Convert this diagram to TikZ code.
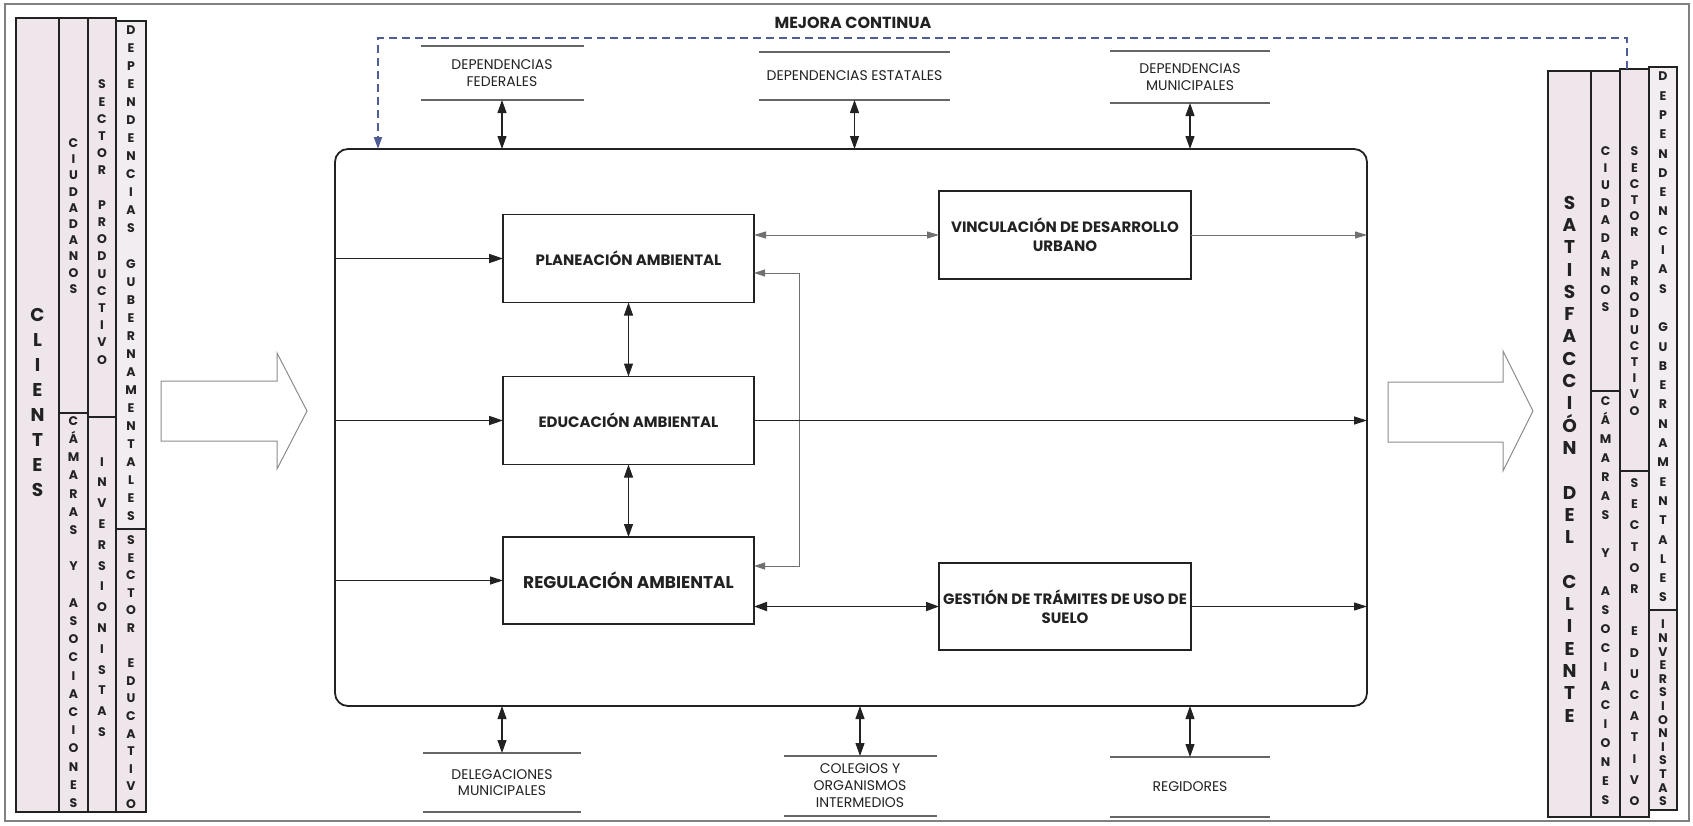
\documentclass[tikz,border=0pt]{standalone}
\usepackage{fontspec}
\setmainfont{Poppins}
\usetikzlibrary{arrows.meta}
\definecolor{colfill}{HTML}{EFE6EC}
\definecolor{colfillb}{HTML}{F1EDF0}
\definecolor{ink}{HTML}{222222}
\definecolor{soft}{HTML}{707070}
\definecolor{loopc}{HTML}{4E5E94}

\begin{document}
\begin{tikzpicture}[x=1pt,y=-1pt,
  every node/.style={inner sep=0pt, outer sep=0pt},
  frame/.style={draw=black!50, line width=1.2pt},
  colbox/.style={draw=ink, fill=colfill, line width=1.6pt},
  colboxb/.style={draw=ink, fill=colfillb, line width=1.6pt},
  vlet/.style={font=\bfseries\fontsize{12.5}{#1}\selectfont, align=center, text=ink},
  vbig/.style={font=\bfseries\fontsize{18.5}{#1}\selectfont, align=center, text=ink},
  procbox/.style={draw=ink, line width=1.8pt, rounded corners=13pt,
    minimum width=1032pt, minimum height=557pt},
  unitbox/.style={draw=ink, line width=1.8pt, fill=white, minimum width=251pt,
    minimum height=88pt, align=center, text=ink,
    font=\bfseries\fontsize{15}{19}\selectfont},
  extlabel/.style={align=center, text=ink, font=\fontsize{14}{16.5}\selectfont},
  rule/.style={draw=black!60, line width=1.2pt},
  heavy/.style={draw=ink, line width=1.7pt, -{Triangle[length=14pt,width=9pt]}},
  medium/.style={draw=ink, line width=1.2pt, -{Triangle[length=13pt,width=8pt]}},
  light/.style={draw=soft, line width=1pt, -{Triangle[length=12pt,width=7pt]}},
  dbl/.style={draw=ink, line width=1.1pt,
    {Triangle[length=13pt,width=9pt]}-{Triangle[length=13pt,width=9pt]}},
  loopline/.style={draw=loopc, line width=1.8pt, dash pattern=on 8pt off 5pt,
    -{Triangle[length=12pt,width=8pt]}},
  hollow/.style={draw=black!45, line width=1pt, fill=white}
]
\useasboundingbox (0,0) rectangle (1693,825);
\draw[frame] (5,4) rectangle (1689,821);

% ---------------- client columns (left) ----------------
\draw[colbox] (16,18) rectangle (59,812);
\draw[colbox] (59,18) rectangle (88,413);
\draw[colbox] (59,413) rectangle (88,812);
\draw[colbox] (88,18) rectangle (116,417);
\draw[colbox] (88,417) rectangle (116,812);
\draw[colboxb] (116,21) rectangle (146,529);
\draw[colbox] (116,529) rectangle (146,812);

\node[vbig=25] (lclientes) at (37.5,402) {C\\L\\I\\E\\N\\T\\E\\S};
\node[vlet=16.2] (lciud) at (73.5,216) {C\\I\\U\\D\\A\\D\\A\\N\\O\\S};
\node[vlet=18.2] (lcam) at (73.5,612)
  {C\\Á\\M\\A\\R\\A\\S\\~\\Y\\~\\A\\S\\O\\C\\I\\A\\C\\I\\O\\N\\E\\S};
\node[vlet=17.2] (lprod) at (102,222)
  {S\\E\\C\\T\\O\\R\\~\\P\\R\\O\\D\\U\\C\\T\\I\\V\\O};
\node[vlet=20.8] (linv) at (102,597) {I\\N\\V\\E\\R\\S\\I\\O\\N\\I\\S\\T\\A\\S};
\node[vlet=18] (ldep) at (131,273)
  {D\\E\\P\\E\\N\\D\\E\\N\\C\\I\\A\\S\\~\\G\\U\\B\\E\\R\\N\\A\\M\\E\\N\\T\\A\\L\\E\\S};
\node[vlet=17.6] (ledu) at (131,672)
  {S\\E\\C\\T\\O\\R\\~\\E\\D\\U\\C\\A\\T\\I\\V\\O};

% ---------------- satisfaction columns (right) ----------------
\draw[colbox] (1548,71) rectangle (1591,817);
\draw[colbox] (1591,71) rectangle (1620,391);
\draw[colbox] (1591,391) rectangle (1620,817);
\draw[colbox] (1620,69) rectangle (1649,471);
\draw[colbox] (1620,471) rectangle (1649,817);
\draw[colboxb] (1649,67) rectangle (1677,610);
\draw[colbox] (1649,610) rectangle (1677,810);

\node[vbig=22.3] (rsat) at (1569.5,459)
  {S\\A\\T\\I\\S\\F\\A\\C\\C\\I\\Ó\\N\\~\\D\\E\\L\\~\\C\\L\\I\\E\\N\\T\\E};
\node[vlet=17.4] (rciud) at (1605.5,229) {C\\I\\U\\D\\A\\D\\A\\N\\O\\S};
\node[vlet=19] (rcam) at (1605.5,601)
  {C\\Á\\M\\A\\R\\A\\S\\~\\Y\\~\\A\\S\\O\\C\\I\\A\\C\\I\\O\\N\\E\\S};
\node[vlet=16.2] (rprod) at (1634.5,281)
  {S\\E\\C\\T\\O\\R\\~\\P\\R\\O\\D\\U\\C\\T\\I\\V\\O};
\node[vlet=21.2] (redu) at (1634.5,642)
  {S\\E\\C\\T\\O\\R\\~\\E\\D\\U\\C\\A\\T\\I\\V\\O};
\node[vlet=19.3] (rdep) at (1663,337)
  {D\\E\\P\\E\\N\\D\\E\\N\\C\\I\\A\\S\\~\\G\\U\\B\\E\\R\\N\\A\\M\\E\\N\\T\\A\\L\\E\\S};
\node[vlet=13.6] (rinv) at (1663,713) {I\\N\\V\\E\\R\\S\\I\\O\\N\\I\\S\\T\\A\\S};

% ---------------- big hollow arrows ----------------
\draw[hollow] (161,381) -- (277,381) -- (277,353) -- (307,411) -- (277,469)
  -- (277,441) -- (161,441) -- cycle;
\draw[hollow] (1388,382) -- (1503,382) -- (1503,351) -- (1533,411) -- (1503,471)
  -- (1503,442) -- (1388,442) -- cycle;

% ---------------- process block ----------------
\node[procbox] (proc) at (851,427.5) {};

\node[unitbox] (plan) at (628.5,258.5) {PLANEACIÓN AMBIENTAL};
\node[unitbox] (edu) at (628.5,420.5) {EDUCACIÓN AMBIENTAL};
\node[unitbox, minimum height=87pt, font=\bfseries\fontsize{17}{21}\selectfont]
  (reg) at (628.5,580.5) {REGULACIÓN AMBIENTAL};
\node[unitbox, minimum width=252pt] (vinc) at (1065,235)
  {VINCULACIÓN DE DESARROLLO\\URBANO};
\node[unitbox, minimum width=252pt, minimum height=87pt] (gest) at (1065,606.5)
  {GESTIÓN DE TRÁMITES DE USO DE\\SUELO};

% inputs from the left edge
\draw[heavy] (proc.west |- plan.west) -- (plan.west);
\draw[heavy] (proc.west |- edu.west) -- (edu.west);
\draw[medium, line width=1.1pt] (proc.west |- reg.west) -- (reg.west);

% links between the units
\draw[dbl, line width=1pt] (plan.south) -- (edu.north);
\draw[dbl, line width=1pt] (edu.south) -- (reg.north);
\draw[light, {Triangle[length=12pt,width=7pt]}-{Triangle[length=12pt,width=7pt]}]
  (plan.east |- vinc.west) -- (vinc.west);
\draw[dbl, line width=1.8pt] (reg.east |- gest.west) -- (gest.west);

% return loop between planning and regulation
\coordinate (fbtop) at (799,273);
\coordinate (fbbot) at (799,566);
\draw[light, line width=0.9pt, {Triangle[length=11pt,width=7pt]}-{Triangle[length=11pt,width=7pt]}]
  (plan.east |- fbtop) -- (fbtop) -- (fbbot) -- (reg.east |- fbbot);

% outputs to the right edge
\draw[light] (vinc.east) -- (proc.east |- vinc.east);
\draw[medium] (edu.east) -- (proc.east |- edu.east);
\draw[medium, line width=1pt] (gest.east) -- (proc.east |- gest.east);

% ---------------- external bodies (top) ----------------
\node[extlabel, minimum width=163pt, minimum height=54pt] (fed) at (502,73)
  {DEPENDENCIAS\\FEDERALES};
\node[extlabel, minimum width=191pt, minimum height=48pt] (est) at (854.5,76)
  {DEPENDENCIAS ESTATALES};
\node[extlabel, minimum width=160pt, minimum height=52pt] (mun) at (1190,77)
  {DEPENDENCIAS\\MUNICIPALES};
\foreach \n in {fed,est,mun}{
  \draw[rule] (\n.north west) -- (\n.north east);
  \draw[rule] (\n.south west) -- (\n.south east);
  \draw[dbl] (\n.south) -- (\n.south |- proc.north);
}

% ---------------- external bodies (bottom) ----------------
\node[extlabel, minimum width=158pt, minimum height=59pt] (del) at (502,782.5)
  {DELEGACIONES\\MUNICIPALES};
\node[extlabel, minimum width=153pt, minimum height=60pt,
  font=\fontsize{14}{17}\selectfont] (cole) at (860,786)
  {COLEGIOS Y\\ORGANISMOS\\INTERMEDIOS};
\node[extlabel, minimum width=160pt, minimum height=60pt] (regid) at (1190,787)
  {REGIDORES};
\foreach \n in {del,cole,regid}{
  \draw[rule] (\n.north west) -- (\n.north east);
  \draw[rule] (\n.south west) -- (\n.south east);
  \draw[dbl] (proc.south -| \n.north) -- (\n.north);
}

% ---------------- continuous improvement loop ----------------
\node[font=\bfseries\fontsize{16}{16}\selectfont, text=ink] (mejora) at (853,23)
  {MEJORA CONTINUA};
\coordinate (dstart) at (1627,69);
\coordinate (dright) at (1627,38);
\coordinate (dleft) at (378,38);
\draw[loopline] (dstart) -- (dright) -- (dleft) -- (dleft |- proc.north);
\end{tikzpicture}
\end{document}
